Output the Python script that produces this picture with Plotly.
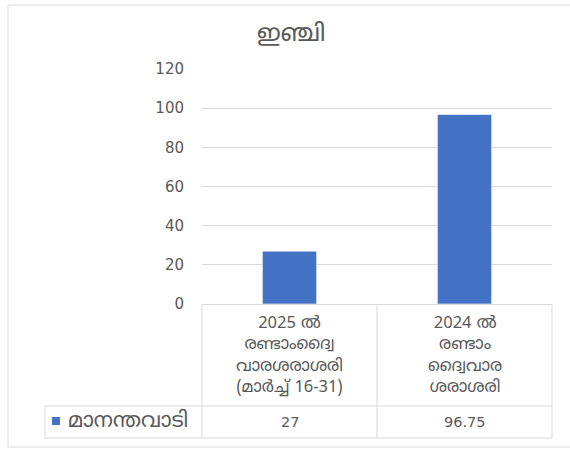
import plotly.graph_objects as go

title = "ഇഞ്ചി"
categories = ["2025 ൽ രണ്ടാംദ്വൈവാരശരാശരി (മാർച്ച് 16-31)", "2024 ൽ രണ്ടാം ദ്വൈവാര ശരാശരി"]
category_lines = [["2025 ൽ", "രണ്ടാംദ്വൈ", "വാരശരാശരി", "(മാർച്ച് 16-31)"],
                  ["2024 ൽ", "രണ്ടാം", "ദ്വൈവാര", "ശരാശരി"]]
series_name = "മാനന്തവാടി"
values = [27, 96.75]
value_labels = ["27", "96.75"]
y_ticks = [0, 20, 40, 60, 80, 100, 120]

W, H = 570, 449
def px(x):
    return x / W
def py(y):
    return (H - y) / H

grey = "#595959"
line_c = "#d9d9d9"
bar_c = "#4472C4"
font_fam = "Noto Sans Malayalam, Noto Sans, DejaVu Sans, sans-serif"

fig = go.Figure()
fig.add_trace(go.Bar(x=categories, y=values, name=series_name, width=0.31,
                     marker=dict(color=bar_c, line=dict(color="rgba(255,255,255,0.6)", width=1))))

shapes = []
def hline(x0, x1, y, color=line_c):
    shapes.append(dict(type="line", xref="paper", yref="paper", x0=px(x0), x1=px(x1), y0=py(y), y1=py(y),
                       line=dict(color=color, width=1)))
def vline(x, y0, y1, color=line_c):
    shapes.append(dict(type="line", xref="paper", yref="paper", x0=px(x), x1=px(x), y0=py(y0), y1=py(y1),
                       line=dict(color=color, width=1)))

# outer frame
hline(8, 572, 5)
hline(8, 572, 447)
vline(8, 5, 447)
# data table
hline(45, 552, 406)
hline(45, 552, 438)
vline(45, 406, 438)
vline(202, 304, 438)
vline(377, 304, 438)
vline(552, 304, 438)
# legend key
shapes.append(dict(type="rect", xref="paper", yref="paper", x0=px(52), x1=px(60), y0=py(425), y1=py(417),
                   fillcolor=bar_c, line=dict(width=0)))

annotations = []
annotations.append(dict(text=title, xref="paper", yref="paper", x=px(291), y=py(35), showarrow=False,
                        font=dict(size=24, color=grey, family=font_fam), xanchor="center", yanchor="middle"))
for cat, lines in zip(categories, category_lines):
    annotations.append(dict(text="<br>".join(lines), xref="x", yref="paper", x=cat, y=py(356), showarrow=False,
                            font=dict(size=16.5, color=grey, family=font_fam), xanchor="center",
                            yanchor="middle", align="center"))
for cat, lab in zip(categories, value_labels):
    annotations.append(dict(text=lab, xref="x", yref="paper", x=cat, y=py(422), showarrow=False,
                            font=dict(size=14.5, color=grey, family="DejaVu Sans, sans-serif"),
                            xanchor="center", yanchor="middle"))
annotations.append(dict(text=series_name, xref="paper", yref="paper", x=px(66), y=py(421), showarrow=False,
                        font=dict(size=21, color=grey, family=font_fam), xanchor="left", yanchor="middle"))

fig.update_layout(
    width=W, height=H, margin=dict(l=0, r=0, t=0, b=0, pad=0, autoexpand=False),
    paper_bgcolor="white", plot_bgcolor="white", showlegend=False,
    xaxis=dict(domain=[px(202), px(552)], showticklabels=False, showgrid=False, zeroline=False,
               showline=True, linecolor=line_c, linewidth=1, range=[-0.5, 1.5], automargin=False),
    yaxis=dict(domain=[py(304), py(69)], range=[0, 120], tickvals=y_ticks, showgrid=True,
               gridcolor=line_c, gridwidth=1, zeroline=False, showline=False, automargin=False,
               tickfont=dict(size=15, color=grey, family="DejaVu Sans, sans-serif"),
               ticks="", ticklabelstandoff=17),
    shapes=shapes, annotations=annotations,
)
post = (
    "var h=document.documentElement,b=document.body;"
    "h.style.margin='0';h.style.padding='0';h.style.overflow='hidden';"
    "b.style.margin='0';b.style.padding='0';b.style.overflow='hidden';"
)
fig.write_html("out.html", config={"displayModeBar": False}, post_script=post)
